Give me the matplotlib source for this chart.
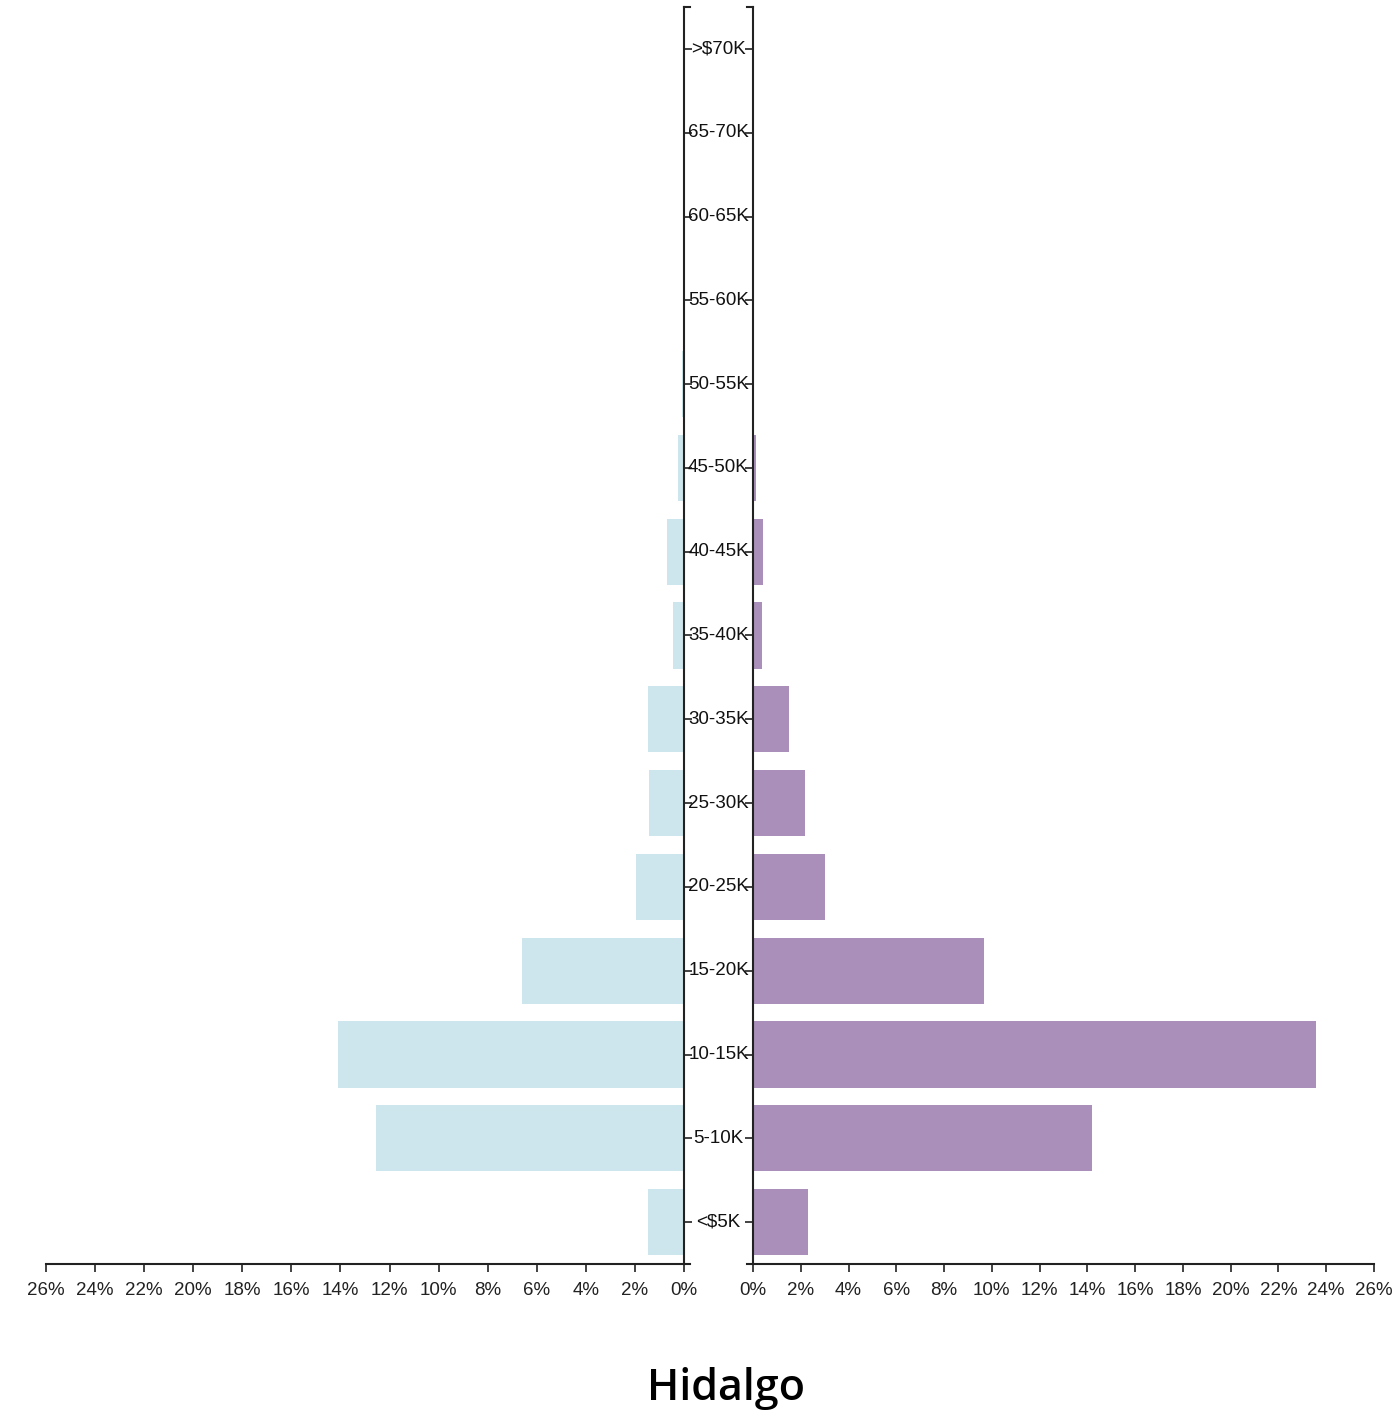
import matplotlib
matplotlib.use('Agg')
import matplotlib.pyplot as plt
from matplotlib.lines import Line2D

# income brackets, bottom to top
categories = ['<$5K', '5-10K', '10-15K', '15-20K', '20-25K', '25-30K', '30-35K',
              '35-40K', '40-45K', '45-50K', '50-55K', '55-60K', '60-65K', '65-70K', '>$70K']
left_values = [1.47, 12.55, 14.1, 6.6, 1.96, 1.43, 1.47, 0.45, 0.69, 0.24, 0.1, 0.05, 0.0, 0.0, 0.0]
right_values = [2.3, 14.2, 23.58, 9.67, 3.0, 2.18, 1.5, 0.38, 0.42, 0.12, 0.0, 0.0, 0.0, 0.0, 0.0]
x_ticks = list(range(0, 27, 2))
title = 'Hidalgo'

left_color = '#cde5ec'
right_color = '#a98fba'
line_color = '#222222'

plt.rcParams['font.family'] = ['Liberation Sans', 'DejaVu Sans']

W, H = 1395, 1417
fig = plt.figure(figsize=(W / 100, H / 100), dpi=100)

def px_axes(x0, x1, ytop, ybot):
    return fig.add_axes([x0 / W, (H - ybot) / H, (x1 - x0) / W, (ybot - ytop) / H])

ax_l = px_axes(46, 684, 7, 1264)
ax_r = px_axes(753, 1374, 7, 1264)

ypos = list(range(len(categories)))
ax_l.barh(ypos, left_values, height=0.79, color=left_color)
ax_r.barh(ypos, right_values, height=0.79, color=right_color)

ax_l.set_xlim(26, 0)
ax_r.set_xlim(0, 26)
for ax in (ax_l, ax_r):
    ax.set_ylim(-0.5, len(categories) - 0.5)
    ax.set_xticks(x_ticks)
    ax.set_xticklabels([f'{t}%' for t in x_ticks], fontsize=13.5, color='#222222')
    ax.tick_params(axis='x', length=6, width=1.2, color=line_color, pad=7)
    ax.set_yticks(ypos)
    ax.set_yticklabels([])
    ax.tick_params(axis='y', length=6, width=1.2, color=line_color)
    ax.spines['top'].set_visible(False)
    for s in ax.spines.values():
        s.set_color(line_color)
        s.set_linewidth(1.5)

ax_l.spines['left'].set_visible(False)
ax_l.yaxis.tick_right()
ax_r.spines['right'].set_visible(False)
ax_r.yaxis.tick_left()

# category labels between the two halves
for i, c in enumerate(categories):
    ax_l.annotate(c, xy=(1, i), xycoords=('axes fraction', 'data'),
                  xytext=(34.5, 0), textcoords='offset pixels',
                  ha='center', va='center', fontsize=13.5, color='#111111')

# outer ticks at axis ends
def fig_line(xs, ys):
    fig.add_artist(Line2D([x / W for x in xs], [(H - y) / H for y in ys],
                          color=line_color, linewidth=1.5))

fig_line([684, 690], [7, 7])
fig_line([684, 690], [1264, 1264])
fig_line([747, 753], [7, 7])
fig_line([747, 753], [1264, 1264])

fig.text(726 / W, (H - 1389) / H, title, ha='center', va='center',
         fontsize=31, fontweight='semibold', family=['Open Sans', 'DejaVu Sans'])

fig.savefig('out.png', dpi=100, facecolor='white')
